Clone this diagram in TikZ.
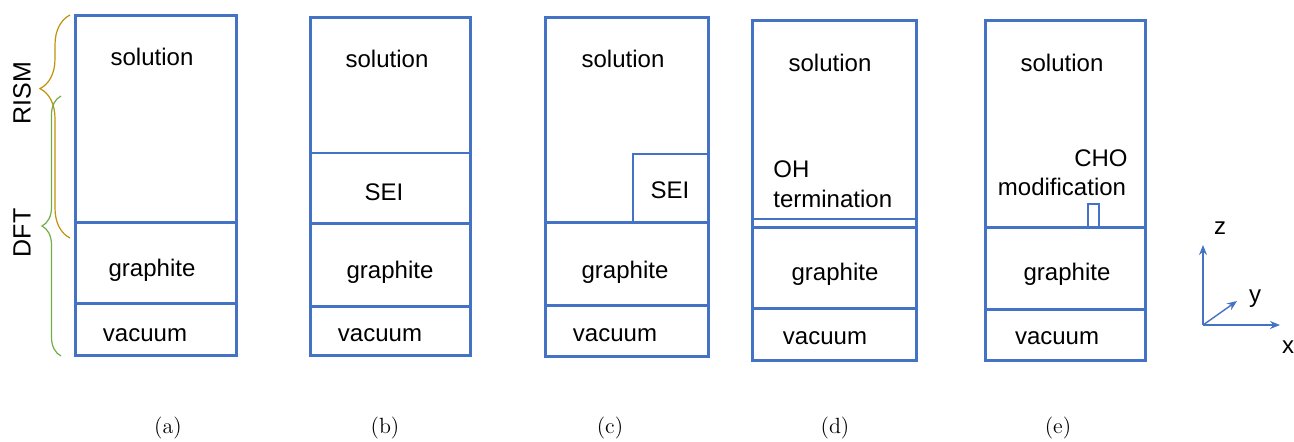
\documentclass[tikz,border=0pt]{standalone}
\usepackage{fontspec}
\newfontfamily\arialfont{Liberation Sans}
\usetikzlibrary{arrows.meta, decorations.pathreplacing}
\definecolor{cellblue}{HTML}{4472C4}
\definecolor{rismgold}{HTML}{C0920A}
\definecolor{dftgreen}{HTML}{70AD47}

\begin{document}
\begin{tikzpicture}[x=0.5pt, y=-0.5pt,
    cell/.style={draw=cellblue, line width=1.5pt},
    thinlayer/.style={draw=cellblue, line width=0.7pt},
    label/.style={font=\arialfont\fontsize{12}{14.5}\selectfont, inner sep=0pt, anchor=base},
    sidelabel/.style={font=\arialfont\fontsize{12.5}{15}\selectfont, inner sep=0pt, rotate=90},
    caption/.style={font=\fontsize{11}{13}\selectfont, inner sep=0pt},
    axis/.style={-{Stealth[length=5pt, width=4pt]}, draw=cellblue, line width=0.7pt},
    spanbrace/.style={decorate, decoration={brace, mirror, amplitude=#1}, line width=0.6pt}
]
\useasboundingbox (0,0) rectangle (1294,441);

% (a) bare graphite
\draw[cell] (75,15) rectangle (236,355);
\draw[cell] (75,222) -- (236,222);
\draw[cell] (75,303) -- (236,303);
\node[label] (solA) at (152,65) {solution};
\node[label] (graA) at (152,276) {graphite};
\node[label] (vacA) at (145,341) {vacuum};

% method ranges
\draw[spanbrace=15pt, rismgold, decoration={aspect=0.33}] (70,15) -- (70,238);
\draw[spanbrace=9.5pt, dftgreen, decoration={aspect=0.5}] (61,96) -- (61,356);
\node[sidelabel] (rism) at (22,93) {RISM};
\node[sidelabel] (dft) at (22,233) {DFT};

% (b) SEI layer
\draw[cell] (310,17) rectangle (470,355);
\draw[thinlayer] (310,153) -- (470,153);
\draw[cell] (310,223) -- (470,223);
\draw[cell] (310,306) -- (470,306);
\node[label] (solB) at (387,67) {solution};
\node[label] (seiB) at (384,200) {SEI};
\node[label] (graB) at (390,278) {graphite};
\node[label] (vacB) at (380,341) {vacuum};

% (c) partial SEI
\draw[cell] (545,17) rectangle (708,356);
\draw[thinlayer] (633,222) -- (633,154) -- (708,154);
\draw[cell] (545,222) -- (708,222);
\draw[cell] (545,305) -- (708,305);
\node[label] (solC) at (623,67) {solution};
\node[label] (seiC) at (670,198) {SEI};
\node[label] (graC) at (625,278) {graphite};
\node[label] (vacC) at (615,341) {vacuum};

% (d) OH termination
\draw[cell] (752,20) rectangle (916,360);
\draw[thinlayer] (752,219) -- (916,219);
\draw[cell] (752,227) -- (916,227);
\draw[cell] (752,308) -- (916,308);
\node[label] (solD) at (830,71) {solution};
\node[label, anchor=base west] (ohD) at (773,177) {OH};
\node[label, anchor=base west] (termD) at (773,207) {termination};
\node[label] (graD) at (835,280) {graphite};
\node[label] (vacD) at (825,344) {vacuum};

% (e) CHO modification
\draw[cell] (985,20) rectangle (1145,360);
\draw[cell] (985,227) -- (1145,227);
\draw[cell] (985,309) -- (1145,309);
\draw[thinlayer] (1088,227) -- (1088,204) -- (1099,204) -- (1099,227);
\node[label] (solE) at (1062,71) {solution};
\node[label, anchor=base east] (choE) at (1128,166) {CHO};
\node[label] (modE) at (1062,195) {modification};
\node[label] (graE) at (1067,280) {graphite};
\node[label] (vacE) at (1057,344) {vacuum};

% axes
\coordinate (origin) at (1203,325);
\coordinate (zend) at (1203,245);
\coordinate (xend) at (1280,325);
\coordinate (yend) at (1237,301);
\draw[axis] (origin) -- (zend);
\draw[axis] (origin) -- (xend);
\draw[axis] (origin) -- (yend);
\node[label, anchor=center] (zlab) at (1220,228) {z};
\node[label, anchor=center] (ylab) at (1255,299) {y};
\node[label, anchor=center] (xlab) at (1288,347) {x};

% captions
\node[caption] (capA) at (168,428) {(a)};
\node[caption] (capB) at (385,428) {(b)};
\node[caption] (capC) at (610,428) {(c)};
\node[caption] (capD) at (835,428) {(d)};
\node[caption] (capE) at (1058,428) {(e)};
\end{tikzpicture}
\end{document}
